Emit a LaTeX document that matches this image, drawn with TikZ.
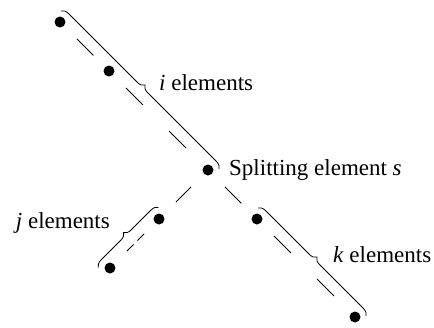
\documentclass[tikz,border=0pt]{standalone}
\usepackage{fontspec}
\setmainfont{Liberation Serif}
\usetikzlibrary{decorations.pathreplacing,calc}
\tikzset{
  dot/.style={circle,fill=black,inner sep=0pt,minimum size=11pt},
  seg/.style={line width=0.8pt},
  chain/.style={line width=0.8pt,dash pattern=on 24pt off 37pt},
  br/.style={line width=0.8pt,decorate,decoration={brace,amplitude=7pt,raise=8.5pt}},
  lbl/.style={inner sep=0pt,font=\fontsize{23}{27}\selectfont}
}
\begin{document}
\begin{tikzpicture}[x=1pt,y=-1pt]
\useasboundingbox (0,0) rectangle (434,327);
\node[dot] (A) at (60,22) {};
\node[dot] (B) at (109,71) {};
\node[dot] (S) at (208,170) {};
\node[dot] (J1) at (159,219) {};
\node[dot] (J2) at (110,268) {};
\node[dot] (K1) at (257,219) {};
\node[dot] (K2) at (355,317) {};
% dashed connections
\draw[seg,shorten <=24pt,shorten >=22pt] (A.center) -- (B.center);
\draw[chain,shorten <=24pt] (B.center) -- (S.center);
\draw[seg,shorten <=24pt,shorten >=24pt] (S.center) -- (J1.center);
\draw[seg,dash pattern=on 9.5pt off 5.5pt,shorten <=21pt,shorten >=24pt] (J1.center) -- (J2.center);
\draw[seg,shorten <=24pt,shorten >=22pt] (S.center) -- (K1.center);
\draw[chain,shorten <=24pt] (K1.center) -- (K2.center);
% braces
\draw[br] ($(A.center)!-7pt!(S.center)$) -- ($(S.center)!-7pt!(A.center)$);
\draw[br] ($(J2.center)!-8pt!(J1.center)$) -- ($(J1.center)!-8pt!(J2.center)$);
\draw[br] ($(K1.center)!-7pt!(K2.center)$) -- ($(K2.center)!-7pt!(K1.center)$);
% labels
\node[lbl,anchor=base west] (li) at (159,90) {\textit{i} elements};
\node[lbl,anchor=base west] (ls) at (229,175) {Splitting element \textit{s}};
\node[lbl,anchor=base east] (lj) at (110,228) {\textit{j} elements};
\node[lbl,anchor=base west] (lk) at (333,262) {\textit{k} elements};
\end{tikzpicture}
\end{document}
